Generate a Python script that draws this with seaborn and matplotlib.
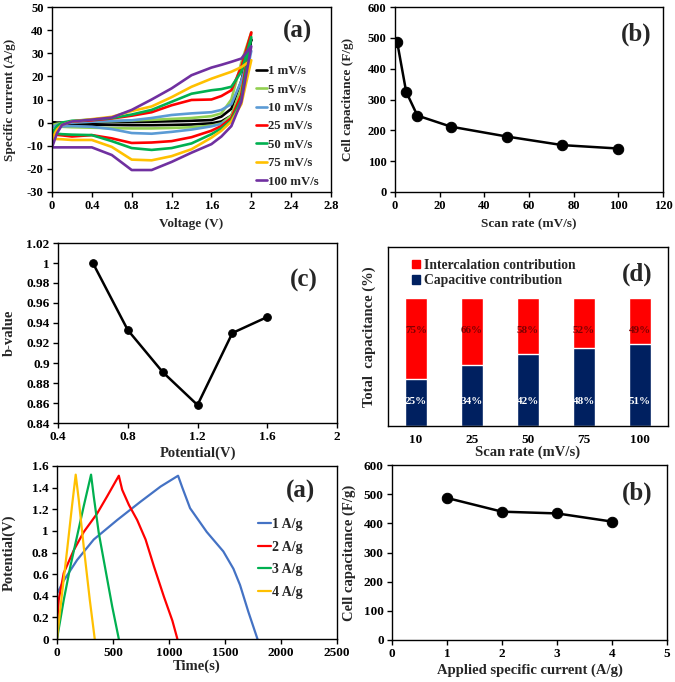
import numpy as np
import pandas as pd
import matplotlib
matplotlib.use("Agg")
import matplotlib.pyplot as plt
import seaborn as sns
from matplotlib.patches import Patch
from matplotlib.ticker import FuncFormatter

sns.set_style("ticks")
plt.rcParams["font.family"] = ["Liberation Serif", "DejaVu Serif"]
plt.rcParams["font.weight"] = "bold"
plt.rcParams["axes.labelweight"] = "bold"

# ---- (a) CV curves ----
cv_voltage = [0, 0.05, 0.1, 0.2, 0.4, 0.6, 0.8, 1.0, 1.2, 1.4, 1.6, 1.7, 1.8, 1.9, 2.0]
cv_labels = ["1 mV/s", "5 mV/s", "10 mV/s", "25 mV/s", "50 mV/s", "75 mV/s", "100 mV/s"]
cv_colors = ["#000000", "#92D050", "#5B9BD5", "#FF0000", "#00B050", "#FFC000", "#7030A0"]

cv_up_1 = [0, 0, 0, 0.1, 0.2, 0.3, 0.3, 0.4, 0.6, 0.8, 1.1, 2.6, 6, 18, 36]
cv_dn_1 = [0, -0.3, -0.5, -0.7, -0.9, -1.0, -1.1, -1.1, -1.0, -0.8, -0.3, 0.5, 3, 13, 36]
cv_up_5 = [-1, -0.5, -0.2, 0.2, 0.4, 0.6, 0.9, 1.2, 1.6, 2, 2.8, 4, 10, 26, 39]
cv_dn_5 = [-1, -1.5, -1.8, -2, -2.2, -2.4, -2.5, -2.5, -2.3, -2, -1.3, -0.3, 3, 15, 39]
cv_up_10 = [-2, -1, -0.5, 0, 0.4, 0.7, 1, 2, 3.3, 4, 4.5, 5.5, 8, 18, 31]
cv_dn_10 = [-2, -1.8, -1.6, -1.5, -1.8, -2.8, -4.5, -4.8, -4, -3, -1.6, -0.5, 1.5, 10, 31]
cv_up_25 = [-5, -2, -0.5, 0.5, 1, 1.8, 3, 4.5, 7.5, 9.8, 10, 11.5, 14, 24, 39]
cv_dn_25 = [-5, -5.3, -5.5, -6, -5.4, -6.8, -8.8, -8.6, -8, -6.3, -3.5, -1.5, 2, 12, 39]
cv_up_50 = [-4.5, -1.5, 0, 0.8, 1.3, 2, 3.5, 5.5, 9, 12.5, 14, 14.5, 15.5, 22, 37]
cv_dn_50 = [-4.5, -4.8, -5, -5.2, -5.4, -8, -11, -11.8, -11, -9, -5, -2.5, 1, 10, 37]
cv_up_75 = [-7, -3, -1, 0.5, 1.5, 2.5, 5, 7, 11, 15.5, 19, 20.5, 22, 24, 27]
cv_dn_75 = [-7, -7.1, -7.2, -7.5, -7.5, -10.5, -16, -16.3, -14.5, -11.5, -6.5, -3.5, 0.5, 8, 27]
cv_up_100 = [-10.7, -4.6, -1, 0.5, 1.3, 2.2, 5.5, 10, 14.8, 20.5, 23.8, 25, 26.3, 27.7, 33]
cv_dn_100 = [-10.7, -10.7, -10.7, -10.7, -10.7, -14, -20.5, -20.5, -17, -13, -9.3, -6, -1.5, 9, 33]

# ---- (b) capacitance vs scan rate ----
scan_rate = [1, 5, 10, 25, 50, 75, 100]
cap_scan = [485, 325, 248, 212, 180, 152, 141]

# ---- (c) b-value ----
b_potential = [0.6, 0.8, 1.0, 1.2, 1.4, 1.6]
b_value = [1.0, 0.933, 0.891, 0.858, 0.930, 0.946]

# ---- (d) contributions ----
d_rates = ["10", "25", "50", "75", "100"]
d_capacitive = [36.5, 47.4, 56, 61, 64.3]
d_cap_text = ["25%", "34%", "42%", "48%", "51%"]
d_int_text = ["75%", "66%", "58%", "52%", "49%"]

# ---- (a) GCD ----
gcd_labels = ["1 A/g", "2 A/g", "3 A/g", "4 A/g"]
gcd_colors = ["#4472C4", "#FF0000", "#00B050", "#FFC000"]
gcd_t_1 = [0, 0, 60, 179, 328, 537, 746, 925, 1081, 1119, 1188, 1337, 1485, 1575, 1634, 1709, 1790]
gcd_v_1 = [0.2, 0.42, 0.54, 0.73, 0.92, 1.10, 1.27, 1.41, 1.51, 1.40, 1.21, 0.99, 0.81, 0.65, 0.50, 0.25, 0]
gcd_t_2 = [0, 5, 15, 60, 149, 239, 358, 448, 552, 582, 642, 716, 791, 866, 955, 1030, 1075]
gcd_v_2 = [0, 0.2, 0.36, 0.61, 0.82, 0.99, 1.16, 1.32, 1.51, 1.38, 1.24, 1.10, 0.92, 0.67, 0.39, 0.17, 0]
gcd_t_3 = [0, 60, 119, 179, 239, 304, 328, 373, 433, 493, 552]
gcd_v_3 = [0, 0.36, 0.67, 0.95, 1.23, 1.52, 1.32, 0.98, 0.64, 0.30, 0]
gcd_t_4 = [0, 45, 90, 134, 167, 194, 239, 293, 337]
gcd_v_4 = [0, 0.42, 0.82, 1.23, 1.52, 1.29, 0.85, 0.36, 0]

# ---- (b) capacitance vs current ----
current = [1, 2, 3, 4]
cap_current = [487, 440, 434, 406]

W, H = 675, 682
fig = plt.figure(figsize=(W / 100, H / 100), dpi=100)


def add_axes(l, r, t, b):
    return fig.add_axes([l / W, 1 - b / H, (r - l) / W, (b - t) / H])


def style(ax, xlabel, ylabel, xl, yl, tag, tagxy, size=9, lsize=9.5, num_x=True):
    ax.set_xlabel(xlabel, fontsize=lsize, va="center")
    ax.set_ylabel(ylabel, fontsize=lsize, va="center")
    ax.xaxis.set_label_coords(*xl)
    ax.yaxis.set_label_coords(*yl)
    for s in ax.spines.values():
        s.set_visible(True)
        s.set_color("black")
        s.set_linewidth(1.0)
    ax.tick_params(labelsize=size, direction="out", length=3.5, width=1, colors="black", pad=2.5)
    fmt = FuncFormatter(lambda v, p: "%g" % round(v, 4))
    if num_x:
        ax.xaxis.set_major_formatter(fmt)
    ax.yaxis.set_major_formatter(fmt)
    for lab in ax.get_xticklabels() + ax.get_yticklabels():
        lab.set_fontweight("bold")
    ax.text(tagxy[0], tagxy[1], tag, transform=ax.transAxes, fontsize=18,
            fontweight="bold", ha="center", va="center")


# (a) CV
ax = add_axes(52, 331, 7, 192)
cv_up = [cv_up_1, cv_up_5, cv_up_10, cv_up_25, cv_up_50, cv_up_75, cv_up_100]
cv_dn = [cv_dn_1, cv_dn_5, cv_dn_10, cv_dn_25, cv_dn_50, cv_dn_75, cv_dn_100]
for lab, col, up, dn in zip(cv_labels, cv_colors, cv_up, cv_dn):
    df = pd.DataFrame({"V": cv_voltage + cv_voltage[::-1], "I": up + dn[::-1]})
    sns.lineplot(data=df, x="V", y="I", sort=False, estimator=None, color=col,
                 lw=1.9, label=lab, ax=ax)
ax.set_xlim(0, 2.8)
ax.set_ylim(-30, 50)
ax.set_xticks(np.arange(0, 2.81, 0.4))
ax.set_yticks(np.arange(-30, 51, 10))
ax.legend(loc="upper left", bbox_to_anchor=(0.73, 0.685), frameon=False,
          handlelength=0.9, handletextpad=0.1, labelspacing=0.5, borderpad=0,
          borderaxespad=0, prop={"weight": "bold", "size": 9.2})
style(ax, "Voltage (V)", "Specific current (A/g)", (0.5, -0.173), (-0.151, 0.5), "(a)", (0.88, 0.87))

# (b) capacitance vs scan rate
ax = add_axes(395, 663, 7, 192)
sns.lineplot(x=scan_rate, y=cap_scan, color="black", lw=1.8, marker="o", ms=7.5,
             mec="black", estimator=None, ax=ax)
ax.set_xlim(0, 120)
ax.set_ylim(0, 600)
ax.set_xticks(range(0, 121, 20))
ax.set_yticks(range(0, 601, 100))
style(ax, "Scan rate (mV/s)", "Cell capacitance (F/g)", (0.5, -0.173), (-0.175, 0.5), "(b)", (0.9, 0.85))

# (c) b-value
ax = add_axes(58, 337, 243, 423)
sns.lineplot(x=b_potential, y=b_value, color="black", lw=1.8, marker="o", ms=5.5,
             mec="black", estimator=None, ax=ax)
ax.set_xlim(0.4, 2)
ax.set_ylim(0.84, 1.02)
ax.set_xticks(np.arange(0.4, 2.01, 0.4))
ax.set_yticks(np.arange(0.84, 1.021, 0.02))
style(ax, "Potential(V)", "b-value", (0.5, -0.167), (-0.176, 0.5), "(c)", (0.88, 0.79),
      size=9.5, lsize=10.5)

# (d) contributions
ax = add_axes(388, 668, 247, 426)
sns.barplot(x=d_rates, y=[100] * len(d_rates), color="#FF0000", width=0.4,
            errorbar=None, saturation=1, ax=ax)
sns.barplot(x=d_rates, y=d_capacitive, color="#002060", width=0.4,
            errorbar=None, saturation=1, ax=ax)
for i in range(len(d_rates)):
    ax.text(i, 75, d_int_text[i], ha="center", va="center", fontsize=8,
            fontweight="bold", color="#7F0000")
    ax.text(i, 19, d_cap_text[i], ha="center", va="center", fontsize=8,
            fontweight="bold", color="white")
ax.set_xlim(-0.5, 4.5)
ax.set_ylim(0, 140)
handles = [Patch(color="#FF0000"), Patch(color="#002060")]
ax.legend(handles, ["Intercalation contribution", "Capacitive contribution"],
          loc="upper left", bbox_to_anchor=(0.085, 0.935), frameon=False,
          handlelength=0.6, handleheight=0.6, handletextpad=0.3, labelspacing=0.2,
          borderpad=0, borderaxespad=0, prop={"weight": "bold", "size": 9.8})
style(ax, "Scan rate (mV/s)", "Total  capacitance (%)", (0.5, -0.145), (-0.068, 0.5), "(d)", (0.89, 0.85),
      size=9.5, lsize=10.5, num_x=False)
ax.tick_params(axis="x", length=0, pad=6)
ax.set_yticks([])

# (a) GCD
ax = add_axes(57, 337, 466, 639)
gcd_t = [gcd_t_1, gcd_t_2, gcd_t_3, gcd_t_4]
gcd_v = [gcd_v_1, gcd_v_2, gcd_v_3, gcd_v_4]
for lab, col, t, v in zip(gcd_labels, gcd_colors, gcd_t, gcd_v):
    sns.lineplot(x=t, y=v, sort=False, estimator=None, color=col, lw=1.6,
                 label=lab, ax=ax)
ax.set_xlim(0, 2500)
ax.set_ylim(0, 1.6)
ax.set_xticks(range(0, 2501, 500))
ax.set_yticks(np.arange(0, 1.61, 0.2))
ax.legend(loc="upper left", bbox_to_anchor=(0.718, 0.70), frameon=False,
          handlelength=0.9, handletextpad=0.1, labelspacing=0.7, borderpad=0,
          borderaxespad=0, prop={"weight": "bold", "size": 10})
style(ax, "Time(s)", "Potential(V)", (0.5, -0.158), (-0.171, 0.5), "(a)", (0.87, 0.85),
      size=9.5, lsize=10.5)

# (b) capacitance vs current
ax = add_axes(392, 667, 465, 640)
sns.lineplot(x=current, y=cap_current, color="black", lw=1.8, marker="o", ms=7.5,
             mec="black", estimator=None, ax=ax)
ax.set_xlim(0, 5)
ax.set_ylim(0, 600)
ax.set_xticks(range(0, 6))
ax.set_yticks(range(0, 601, 100))
style(ax, "Applied specific current (A/g)", "Cell capacitance (F/g)", (0.5, -0.171), (-0.156, 0.5), "(b)", (0.89, 0.84),
      size=9.5, lsize=10.5)

fig.savefig("out.png", dpi=100)
